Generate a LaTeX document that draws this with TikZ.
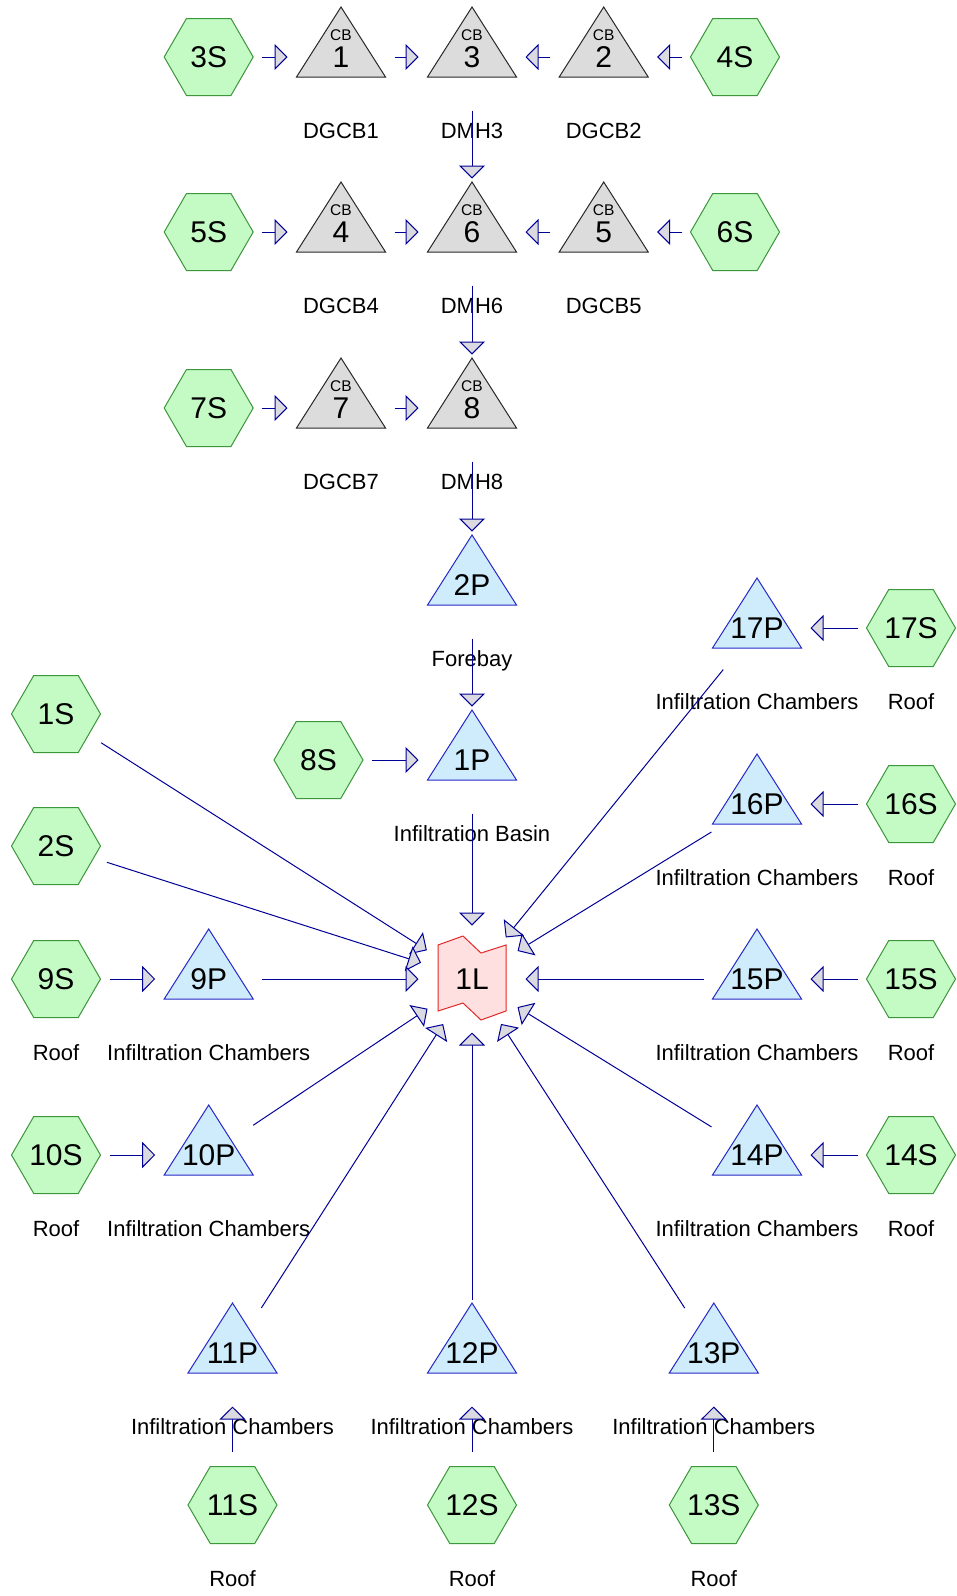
\documentclass[tikz,border=0pt]{standalone}
\usepackage{fontspec}
\setmainfont{Liberation Sans}
\usetikzlibrary{arrows.meta}
\usetikzlibrary{positioning}

\definecolor{subfill}{RGB}{196,250,196}
\definecolor{subline}{RGB}{60,150,60}
\definecolor{cbfill}{RGB}{220,220,220}
\definecolor{cbline}{RGB}{40,40,40}
\definecolor{pondfill}{RGB}{206,236,252}
\definecolor{pondline}{RGB}{40,40,200}
\definecolor{linkfill}{RGB}{255,224,224}
\definecolor{linkline}{RGB}{225,40,40}
\definecolor{flowline}{RGB}{0,0,150}
\definecolor{tipfill}{RGB}{218,218,224}

\newcommand{\nodefnt}{\fontsize{30}{36}\selectfont}
\newcommand{\labelfnt}{\fontsize{22}{26}\selectfont}
\newcommand{\cbfnt}{\fontsize{15.5}{18}\selectfont}

\begin{document}
\begin{tikzpicture}[
  x=1pt, y=-1pt,
  every path/.style={line width=1pt},
  %every node/.style={draw, circle, minimum size=106pt},
  spot/.style={circle, minimum size=106pt, inner sep=0pt, font=\nodefnt},
  subcat/.style={spot, path picture={\filldraw[fill=subfill, draw=subline]
      (path picture bounding box.center) ++(-44.5pt,0pt) -- ++(22.25pt,38.5pt) -- ++(44.5pt,0pt)
      -- ++(22.25pt,-38.5pt) -- ++(-22.25pt,-38.5pt) -- ++(-44.5pt,0pt) -- cycle;}},
  pond/.style={spot, path picture={\filldraw[fill=pondfill, draw=pondline]
      (path picture bounding box.center) ++(0pt,50pt) -- ++(44.5pt,-70pt) -- ++(-89pt,0pt) -- cycle;}},
  cbasin/.style={spot, label={[font=\cbfnt, inner sep=0pt, label distance=-37.5pt]above:CB},
    path picture={\filldraw[fill=cbfill, draw=cbline]
      (path picture bounding box.center) ++(0pt,50pt) -- ++(44.5pt,-70pt) -- ++(-89pt,0pt) -- cycle;}},
  link/.style={spot, path picture={\filldraw[fill=linkfill, draw=linkline]
      (path picture bounding box.center) ++(-34pt,34pt) -- ++(25pt,9pt) -- ++(18pt,-17pt) -- ++(25pt,8pt)
      -- ++(0pt,-66pt) -- ++(-25pt,-9pt) -- ++(-18pt,17pt) -- ++(-25pt,-8pt) -- cycle;}},
  lbl/.style={anchor=base, inner sep=0pt, font=\labelfnt, yshift=-81pt},
  flow/.style={draw=flowline, line width=1.3pt, -{Triangle[length=13pt, width=26pt, fill=tipfill]}}
  ] %
    \useasboundingbox (0,0) rectangle (956,1596);

    % catch basins and manholes
    \node[subcat](s3) at (208.7,57){3S};
    \node[cbasin](cb1) at (341,57){1};
    \node[cbasin](cb3) at (472,57){3};
    \node[cbasin](cb2) at (603.7,57){2};
    \node[subcat](s4) at (735,57){4S};
    \node[subcat](s5) at (208.7,232){5S};
    \node[cbasin](cb4) at (341,232){4};
    \node[cbasin](cb6) at (472,232){6};
    \node[cbasin](cb5) at (603.7,232){5};
    \node[subcat](s6) at (735,232){6S};
    \node[subcat](s7) at (208.7,408){7S};
    \node[cbasin](cb7) at (341,408){7};
    \node[cbasin](cb8) at (472,408){8};

    % forebay and basin
    \node[pond](p2) at (472,585){2P};
    \node[pond](p1) at (472,760){1P};
    \node[subcat](s8) at (318.5,760){8S};
    \node[link](l1) at (472,979){1L};

    % left side
    \node[subcat](s1) at (56,714){1S};
    \node[subcat](s2) at (56,846){2S};
    \node[subcat](s9) at (56,979){9S};
    \node[pond](p9) at (208.7,979){9P};
    \node[subcat](s10) at (56,1155){10S};
    \node[pond](p10) at (208.7,1155){10P};

    % bottom
    \node[pond](p11) at (232.5,1353){11P};
    \node[pond](p12) at (472,1353){12P};
    \node[pond](p13) at (713.8,1353){13P};
    \node[subcat](s11) at (232.5,1505){11S};
    \node[subcat](s12) at (472,1505){12S};
    \node[subcat](s13) at (713.8,1505){13S};

    % right side
    \node[pond](p17) at (757,628){17P};
    \node[subcat](s17) at (911,628){17S};
    \node[pond](p16) at (757,804){16P};
    \node[subcat](s16) at (911,804){16S};
    \node[pond](p15) at (757,979){15P};
    \node[subcat](s15) at (911,979){15S};
    \node[pond](p14) at (757,1155){14P};
    \node[subcat](s14) at (911,1155){14S};

    % names under the nodes
    \node[lbl](cb1-t) at (cb1.center){DGCB1};
    \node[lbl](cb3-t) at (cb3.center){DMH3};
    \node[lbl](cb2-t) at (cb2.center){DGCB2};
    \node[lbl](cb4-t) at (cb4.center){DGCB4};
    \node[lbl](cb6-t) at (cb6.center){DMH6};
    \node[lbl](cb5-t) at (cb5.center){DGCB5};
    \node[lbl](cb7-t) at (cb7.center){DGCB7};
    \node[lbl](cb8-t) at (cb8.center){DMH8};
    \node[lbl](p2-t) at (p2.center){Forebay};
    \node[lbl](p1-t) at (p1.center){Infiltration Basin};
    \node[lbl](s9-t) at (s9.center){Roof};
    \node[lbl](p9-t) at (p9.center){Infiltration Chambers};
    \node[lbl](s10-t) at (s10.center){Roof};
    \node[lbl](p10-t) at (p10.center){Infiltration Chambers};
    \node[lbl](p11-t) at (p11.center){Infiltration Chambers};
    \node[lbl](p12-t) at (p12.center){Infiltration Chambers};
    \node[lbl](p13-t) at (p13.center){Infiltration Chambers};
    \node[lbl](s11-t) at (s11.center){Roof};
    \node[lbl](s12-t) at (s12.center){Roof};
    \node[lbl](s13-t) at (s13.center){Roof};
    \node[lbl](p17-t) at (p17.center){Infiltration Chambers};
    \node[lbl](s17-t) at (s17.center){Roof};
    \node[lbl](p16-t) at (p16.center){Infiltration Chambers};
    \node[lbl](s16-t) at (s16.center){Roof};
    \node[lbl](p15-t) at (p15.center){Infiltration Chambers};
    \node[lbl](s15-t) at (s15.center){Roof};
    \node[lbl](p14-t) at (p14.center){Infiltration Chambers};
    \node[lbl](s14-t) at (s14.center){Roof};

    % routing
    \draw[flow](s3) edge (cb1);
    \draw[flow](cb1) edge (cb3);
    \draw[flow](cb2) edge (cb3);
    \draw[flow](s4) edge (cb2);
    \draw[flow](cb3) edge (cb6);
    \draw[flow](s5) edge (cb4);
    \draw[flow](cb4) edge (cb6);
    \draw[flow](cb5) edge (cb6);
    \draw[flow](s6) edge (cb5);
    \draw[flow](cb6) edge (cb8);
    \draw[flow](s7) edge (cb7);
    \draw[flow](cb7) edge (cb8);
    \draw[flow](cb8) edge (p2);
    \draw[flow](p2) edge (p1);
    \draw[flow](s8) edge (p1);
    \draw[flow](p1) edge (l1);
    \draw[flow](s1) edge (l1);
    \draw[flow](s2) edge (l1);
    \draw[flow](s9) edge (p9);
    \draw[flow](p9) edge (l1);
    \draw[flow](s10) edge (p10);
    \draw[flow](p10) edge (l1);
    \draw[flow](s11) edge (p11);
    \draw[flow](p11) edge (l1);
    \draw[flow](s12) edge (p12);
    \draw[flow](p12) edge (l1);
    \draw[flow](s13) edge (p13);
    \draw[flow](p13) edge (l1);
    \draw[flow](s14) edge (p14);
    \draw[flow](p14) edge (l1);
    \draw[flow](s15) edge (p15);
    \draw[flow](p15) edge (l1);
    \draw[flow](s16) edge (p16);
    \draw[flow](p16) edge (l1);
    \draw[flow](s17) edge (p17);
    \draw[flow](p17) edge (l1);
  \end{tikzpicture}
\end{document}
